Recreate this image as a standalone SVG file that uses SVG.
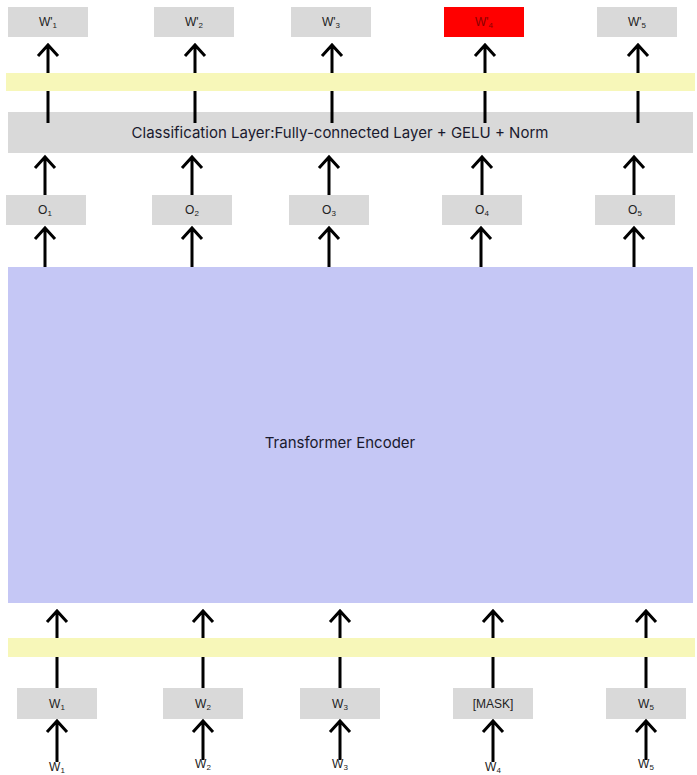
<svg xmlns="http://www.w3.org/2000/svg" width="697" height="775" viewBox="0 0 697 775">
<style>
.box{fill:#d9d9d9}
.red{fill:#ff0000}
.yb{fill:#f7f7b9}
.enc{fill:#c5c7f5}
.lbl{font-family:"Liberation Sans",Arial,sans-serif;font-size:12px;fill:#222;text-anchor:middle}
.big{font-family:Inter,"Liberation Sans",sans-serif;font-size:15px;fill:#1a1a2e;text-anchor:middle}
.sub{font-size:8px}
.c{fill:none;stroke:#000;stroke-width:3}
</style>
<rect width="697" height="775" fill="#fff"/>
<g id="nodes">
<g id="wp1"><rect class="box" x="8" y="7" width="80" height="30"/><text class="lbl" x="48" y="26">W'<tspan class="sub" dy="2">1</tspan></text></g>
<g id="wp2"><rect class="box" x="154" y="7" width="80" height="30"/><text class="lbl" x="194" y="26">W'<tspan class="sub" dy="2">2</tspan></text></g>
<g id="wp3"><rect class="box" x="291" y="7" width="80" height="30"/><text class="lbl" x="331" y="26">W'<tspan class="sub" dy="2">3</tspan></text></g>
<g id="wp4"><rect class="red" x="444" y="7" width="80" height="30"/><text class="lbl" x="484" y="26" style="fill:#8a0000">W'<tspan class="sub" dy="2">4</tspan></text></g>
<g id="wp5"><rect class="box" x="597" y="7" width="80" height="30"/><text class="lbl" x="637" y="26">W'<tspan class="sub" dy="2">5</tspan></text></g>
<g id="cls"><rect class="box" x="8" y="112" width="685" height="41"/><text class="big" x="340" y="138">Classification Layer:Fully-connected Layer + GELU + Norm</text></g>
<g id="o1"><rect class="box" x="6" y="195" width="80" height="30"/><text class="lbl" x="45" y="214">O<tspan class="sub" dy="2">1</tspan></text></g>
<g id="o2"><rect class="box" x="152" y="195" width="80" height="30"/><text class="lbl" x="192" y="214">O<tspan class="sub" dy="2">2</tspan></text></g>
<g id="o3"><rect class="box" x="289" y="195" width="80" height="30"/><text class="lbl" x="329" y="214">O<tspan class="sub" dy="2">3</tspan></text></g>
<g id="o4"><rect class="box" x="442" y="195" width="80" height="30"/><text class="lbl" x="482" y="214">O<tspan class="sub" dy="2">4</tspan></text></g>
<g id="o5"><rect class="box" x="595" y="195" width="80" height="30"/><text class="lbl" x="635" y="214">O<tspan class="sub" dy="2">5</tspan></text></g>
<g id="encoder"><rect class="enc" x="8" y="267" width="685" height="336"/><text class="big" x="340" y="448">Transformer Encoder</text></g>
<g id="w1"><rect class="box" x="17" y="688" width="80" height="31"/><text class="lbl" x="57" y="708">W<tspan class="sub" dy="2">1</tspan></text></g>
<g id="w2"><rect class="box" x="163" y="688" width="80" height="31"/><text class="lbl" x="203" y="708">W<tspan class="sub" dy="2">2</tspan></text></g>
<g id="w3"><rect class="box" x="300" y="688" width="80" height="31"/><text class="lbl" x="340" y="708">W<tspan class="sub" dy="2">3</tspan></text></g>
<g id="mask"><rect class="box" x="453" y="688" width="80" height="31"/><text class="lbl" x="493" y="708">[MASK]</text></g>
<g id="w5"><rect class="box" x="606" y="688" width="80" height="31"/><text class="lbl" x="646" y="708">W<tspan class="sub" dy="2">5</tspan></text></g>
<g id="in1"><text class="lbl" x="57" y="771">W<tspan class="sub" dy="2">1</tspan></text></g>
<g id="in2"><text class="lbl" x="203" y="768">W<tspan class="sub" dy="2">2</tspan></text></g>
<g id="in3"><text class="lbl" x="340" y="768">W<tspan class="sub" dy="2">3</tspan></text></g>
<g id="in4"><text class="lbl" x="493" y="771">W<tspan class="sub" dy="2">4</tspan></text></g>
<g id="in5"><text class="lbl" x="646" y="768">W<tspan class="sub" dy="2">5</tspan></text></g>
</g>
<g id="connectors">
<path class="c" d="M48 123V45M38 56L48 45L58 56"/>
<path class="c" d="M195 123V45M185 56L195 45L205 56"/>
<path class="c" d="M332 123V45M322 56L332 45L342 56"/>
<path class="c" d="M485 123V45M475 56L485 45L495 56"/>
<path class="c" d="M638 123V45M628 56L638 45L648 56"/>
<path class="c" d="M45 195V157M35 168L45 157L55 168"/>
<path class="c" d="M192 195V157M182 168L192 157L202 168"/>
<path class="c" d="M329 195V157M319 168L329 157L339 168"/>
<path class="c" d="M482 195V157M472 168L482 157L492 168"/>
<path class="c" d="M634 195V157M624 168L634 157L644 168"/>
<path class="c" d="M45 267V228M35 239L45 228L55 239"/>
<path class="c" d="M192 267V228M182 239L192 228L202 239"/>
<path class="c" d="M329 267V228M319 239L329 228L339 239"/>
<path class="c" d="M481 267V228M471 239L481 228L491 239"/>
<path class="c" d="M634 267V228M624 239L634 228L644 239"/>
<path class="c" d="M57 688V611M47 622L57 611L67 622"/>
<path class="c" d="M203 688V611M193 622L203 611L213 622"/>
<path class="c" d="M340 688V611M330 622L340 611L350 622"/>
<path class="c" d="M493 688V611M483 622L493 611L503 622"/>
<path class="c" d="M646 688V611M636 622L646 611L656 622"/>
<path class="c" d="M57 762V721M47 732L57 721L67 732"/>
<path class="c" d="M203 760V721M193 732L203 721L213 732"/>
<path class="c" d="M340 760V721M330 732L340 721L350 732"/>
<path class="c" d="M493 762V721M483 732L493 721L503 732"/>
<path class="c" d="M646 760V721M636 732L646 721L656 732"/>
</g>
<g id="bars">
<rect id="bar-top" class="yb" x="6" y="73" width="689" height="18"/>
<rect id="bar-bottom" class="yb" x="8" y="638" width="687" height="19"/>
</g>
</svg>
